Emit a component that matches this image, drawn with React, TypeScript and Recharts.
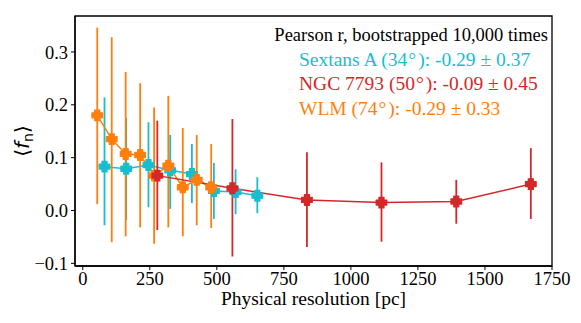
import React from "react";
import {
  ComposedChart,
  Line,
  XAxis,
  YAxis,
  ErrorBar,
  ReferenceArea,
} from "recharts";

// Sextans A (cyan)
const sextansX = [81, 162, 245, 326, 407, 489, 570, 651];
const sextansY = [0.083, 0.079, 0.086, 0.076, 0.069, 0.037, 0.035, 0.028];
const sextansLo = [-0.028, -0.018, 0.006, 0.003, 0.014, -0.016, -0.007, -0.005];
const sextansHi = [0.214, 0.175, 0.167, 0.143, 0.126, 0.09, 0.078, 0.063];

// NGC 7793 (red)
const ngcX = [278, 558, 836, 1114, 1393, 1671];
const ngcY = [0.066, 0.042, 0.02, 0.015, 0.017, 0.05];
const ngcLo = [-0.037, -0.087, -0.069, -0.059, -0.025, -0.016];
const ngcHi = [0.17, 0.173, 0.11, 0.091, 0.058, 0.118];

// WLM (orange)
const wlmX = [54, 108, 160, 214, 266, 319, 373, 425, 479];
const wlmY = [0.18, 0.135, 0.107, 0.105, 0.066, 0.085, 0.044, 0.058, 0.044];
const wlmLo = [0.012, -0.06, -0.049, -0.032, -0.063, -0.032, -0.049, -0.028, -0.033];
const wlmHi = [0.346, 0.328, 0.262, 0.241, 0.195, 0.217, 0.156, 0.143, 0.126];

const xTicks = [0, 250, 500, 750, 1000, 1250, 1500, 1750];
const yTicks = [-0.1, 0, 0.1, 0.2, 0.3];

const legendTitle = "Pearson r, bootstrapped 10,000 times";
const legendLines = [
  { name: "Sextans A", angle: "34", r: "-0.29 ± 0.37", color: "#17becf" },
  { name: "NGC 7793", angle: "50", r: "-0.09 ± 0.45", color: "#d62728" },
  { name: "WLM", angle: "74", r: "-0.29 ± 0.33", color: "#ff7f0e" },
];

const X_DOMAIN: [number, number] = [-29, 1750];
const Y_DOMAIN: [number, number] = [-0.105, 0.368];

function build(xs: number[], ys: number[], lo: number[], hi: number[]) {
  return xs.map((x, i) => ({
    x,
    y: ys[i],
    err: [ys[i] - lo[i], hi[i] - ys[i]],
  }));
}

const sextansData = build(sextansX, sextansY, sextansLo, sextansHi);
const ngcData = build(ngcX, ngcY, ngcLo, ngcHi);
const wlmData = build(wlmX, wlmY, wlmLo, wlmHi);

// thick "P" style plus marker
function plusMarker(color: string) {
  return (props: any) => {
    const { cx, cy, index } = props;
    if (cx == null || cy == null) return <g key={index} />;
    const a = 5.3;
    const t = 2.5;
    const d = `M${cx - t},${cy - a} H${cx + t} V${cy - t} H${cx + a} V${cy + t} H${cx + t} V${cy + a} H${cx - t} V${cy + t} H${cx - a} V${cy - t} H${cx - t} Z`;
    return <path key={index} d={d} fill={color} stroke={color} strokeWidth={1.3} strokeLinejoin="round" />;
  };
}

const serif = "'Liberation Serif', 'Times New Roman', Times, serif";
const tickStyle = { fontSize: 18.5, fill: "#000", fontFamily: serif };

const fmtY = (v: number) => (v < 0 ? `\u2212${Math.abs(v).toFixed(1)}` : v.toFixed(1));

export default function App() {
  const series = [
    { data: sextansData, color: "#17becf", name: "Sextans A" },
    { data: wlmData, color: "#ff7f0e", name: "WLM" },
    { data: ngcData, color: "#d62728", name: "NGC 7793" },
  ];

  return (
    <div style={{ position: "absolute", left: 0, top: 0, width: 581, height: 323, background: "#fff" }}>
      <ComposedChart width={581} height={323} margin={{ top: 16, right: 29, left: 0, bottom: 0 }}>
        <XAxis
          type="number"
          dataKey="x"
          domain={X_DOMAIN}
          ticks={xTicks}
          allowDataOverflow
          height={57}
          tick={tickStyle}
          tickSize={4}
          tickMargin={2}
          axisLine={{ stroke: "#000", strokeWidth: 1.3 }}
          tickLine={{ stroke: "#000", strokeWidth: 1 }}
        />
        <YAxis
          type="number"
          dataKey="y"
          domain={Y_DOMAIN}
          ticks={yTicks}
          allowDataOverflow
          width={75}
          tick={tickStyle}
          tickSize={4}
          tickMargin={3}
          tickFormatter={fmtY}
          axisLine={{ stroke: "#000", strokeWidth: 1.3 }}
          tickLine={{ stroke: "#000", strokeWidth: 1 }}
        />
        <ReferenceArea
          x1={X_DOMAIN[0]}
          x2={X_DOMAIN[1]}
          y1={Y_DOMAIN[0]}
          y2={Y_DOMAIN[1]}
          fill="none"
          stroke="#000"
          strokeWidth={1.3}
          fillOpacity={0}
        />
        {series.map((s) => (
          <Line
            key={s.name}
            data={s.data}
            dataKey="y"
            name={s.name}
            type="linear"
            stroke={s.color}
            strokeWidth={1.5}
            dot={plusMarker(s.color)}
            activeDot={false}
            isAnimationActive={false}
          >
            <ErrorBar dataKey="err" direction="y" width={0} stroke={s.color} strokeWidth={1.8} />
          </Line>
        ))}
      </ComposedChart>

      {/* legend block */}
      <div
        style={{
          position: "absolute",
          right: 581 - 548,
          top: 25,
          fontFamily: serif,
          fontSize: 18.5,
          lineHeight: "20px",
          color: "#000",
          whiteSpace: "nowrap",
        }}
      >
        {legendTitle}
      </div>
      {legendLines.map((l, i) => (
        <div
          key={l.name}
          style={{
            position: "absolute",
            left: 299,
            top: 49 + i * 24.3,
            fontFamily: serif,
            fontSize: 19.5,
            lineHeight: "21px",
            color: l.color,
            whiteSpace: "nowrap",
          }}
        >
          {l.name} ({l.angle}
          <span style={{ margin: "0 2px 0 1px" }}>°</span>): {l.r}
        </div>
      ))}

      {/* axis labels */}
      <div
        style={{
          position: "absolute",
          left: 0,
          width: 627,
          top: 288,
          textAlign: "center",
          fontFamily: serif,
          fontSize: 19.5,
          lineHeight: "22px",
          color: "#000",
        }}
      >
        Physical resolution [pc]
      </div>
      <svg style={{ position: "absolute", left: 0, top: 0 }} width={60} height={323}>
        <text
          transform="translate(29,141) rotate(-90)"
          textAnchor="middle"
          fontFamily="'DejaVu Sans', sans-serif"
          fontSize={20}
          fill="#000"
        >
          ⟨<tspan fontStyle="italic">f</tspan>
          <tspan fontSize={14} dy={4}>n</tspan>
          <tspan dy={-4}>⟩</tspan>
        </text>
      </svg>
    </div>
  );
}
